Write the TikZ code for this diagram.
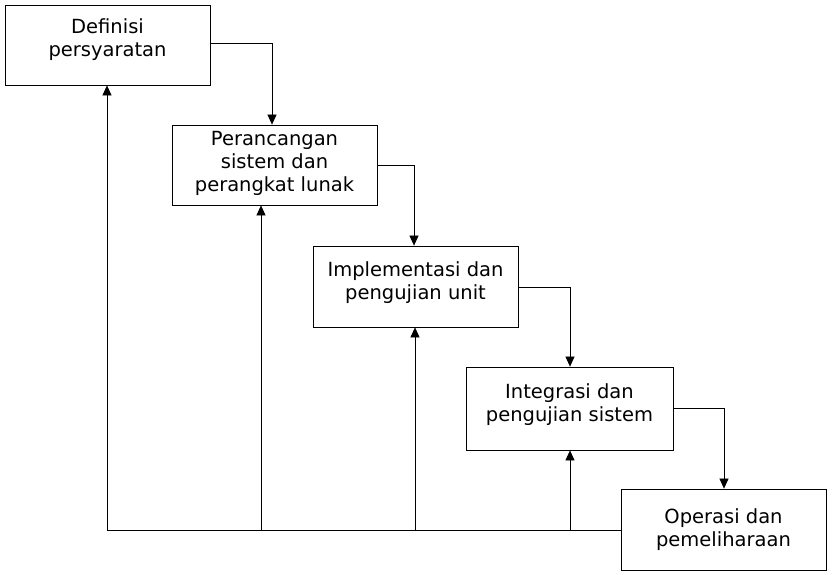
\documentclass[tikz,border=0pt]{standalone}
\usepackage{fontspec}
\setmainfont{DejaVu Sans}
\usetikzlibrary{arrows.meta}
\begin{document}
\begin{tikzpicture}[x=1pt,y=-1pt,
  box/.style={draw,line width=0.8pt,minimum width=205pt,minimum height=80pt,inner sep=0pt},
  lbl/.style={align=center,font=\fontsize{19.5}{23}\selectfont},
  ar/.style={line width=0.6pt,-{Triangle[length=10pt,width=9pt]}},
  ln/.style={line width=0.6pt}]
\useasboundingbox[fill=white] (0,0) rectangle (832,575);
\node[box] (a) at (107.5,45) {};
\node[lbl] (ta) at (107.5,40) {Definisi\\persyaratan};
\node[box] (b) at (274.5,165) {};
\node[lbl] (tb) at (274.5,163) {Perancangan\\sistem dan\\perangkat lunak};
\node[box,minimum height=81pt] (c) at (415.5,286.5) {};
\node[lbl] (tc) at (415.5,283) {Implementasi dan\\pengujian unit};
\node[box,minimum width=207pt,minimum height=83pt] (d) at (569.5,408.5) {};
\node[lbl] (td) at (569.5,405) {Integrasi dan\\pengujian sistem};
\node[box,minimum height=81pt] (e) at (723.5,529.5) {};
\node[lbl] (te) at (723.5,530) {Operasi dan\\pemeliharaan};
\coordinate (ab) at (272,43);
\coordinate (bc) at (414,165);
\coordinate (cd) at (570,287);
\coordinate (de) at (724,408);
\draw[ar] (a.east|-ab) -| (b.north-|ab);
\draw[ar] (b.east|-bc) -| (c.north-|bc);
\draw[ar] (c.east|-cd) -| (d.north-|cd);
\draw[ar] (d.east|-de) -| (e.north-|de);
\coordinate (f1) at (107,530);
\coordinate (f2) at (261,530);
\coordinate (f3) at (415,530);
\coordinate (f4) at (570,530);
\draw[ln] (e.west|-f1) -- (f1);
\draw[ar] (f1) -- (a.south-|f1);
\draw[ar] (f2) -- (b.south-|f2);
\draw[ar] (f3) -- (c.south-|f3);
\draw[ar] (f4) -- (d.south-|f4);
\end{tikzpicture}
\end{document}
